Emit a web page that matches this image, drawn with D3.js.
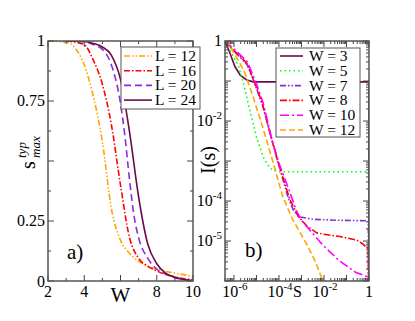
<!DOCTYPE html>
<html>
<head>
<meta charset="UTF-8">
<title>s_max and I(s)</title>
<script type="text/javascript" src="https://cdnjs.cloudflare.com/ajax/libs/d3/7.8.5/d3.min.js"></script>
<style>
body { margin: 0; background: #fff; }
text { font-family: "Liberation Serif", "DejaVu Serif", serif; fill: #000; }
</style>
</head>
<body>
<div id="plot"></div>
<script type="text/javascript">

// panel a) : typical s_max against W, one curve per L
var wL12 = [2, 3, 3.5, 4, 4.5, 5, 5.5, 6, 6.5, 7, 7.5, 8, 9, 10]
var sL12 = [1, 0.995, 0.97, 0.9, 0.77, 0.58, 0.30, 0.17, 0.115, 0.082, 0.062, 0.049, 0.033, 0.02]
var wL16 = [3, 3.5, 4, 4.5, 5, 5.5, 6, 6.5, 7, 7.5, 8, 9, 10]
var sL16 = [1, 0.995, 0.985, 0.92, 0.82, 0.65, 0.40, 0.18, 0.095, 0.062, 0.042, 0.017, 0.005]
var wL20 = [3, 4, 4.5, 5, 5.5, 6, 6.25, 6.5, 6.75, 7, 7.5, 8, 8.5, 9, 10]
var sL20 = [1, 0.997, 0.985, 0.965, 0.9, 0.74, 0.6, 0.42, 0.27, 0.18, 0.095, 0.05, 0.028, 0.014, 0.002]
var wL24 = [3, 4, 4.5, 5, 5.5, 6, 6.5, 7, 7.5, 8, 8.5, 9, 10]
var sL24 = [1, 0.998, 0.99, 0.975, 0.94, 0.84, 0.62, 0.35, 0.155, 0.072, 0.032, 0.016, 0.001]

var labelsA = ["L = 12", "L = 16", "L = 20", "L = 24"]

// panel b) : I(s) against S, one curve per W
var sW3  = [4e-7, 6.6e-7, 1.1e-6, 1.9e-6, 3.7e-6, 7.2e-6, 1, 1]
var iW3  = [1, 0.5, 0.23, 0.14, 0.106, 0.095, 0.095, 1e-9]
var sW5  = [4e-7, 7.9e-7, 1.6e-6, 2.5e-6, 4.5e-6, 1e-5, 2e-5, 3.2e-5, 5e-5, 1e-4, 1, 1]
var iW5  = [0.9, 0.5, 0.23, 0.1, 0.025, 4e-3, 1.26e-3, 7.9e-4, 6e-4, 5.4e-4, 5.4e-4, 1e-9]
var sW7  = [4e-7, 5e-7, 1e-6, 2e-6, 4e-6, 8.9e-6, 1.9e-5, 4.2e-5, 1e-4, 2.5e-4, 4.5e-4, 8.9e-4, 3.2e-3, 3.2e-2, 0.93, 1]
var iW7  = [1, 0.83, 0.56, 0.38, 0.25, 0.079, 0.024, 4.5e-3, 7.9e-4, 1.26e-4, 5.6e-5, 4e-5, 3.5e-5, 3.3e-5, 3.2e-5, 1e-9]
var sW8  = [4e-7, 4.7e-7, 9.1e-7, 1.9e-6, 3.7e-6, 8.5e-6, 1.8e-5, 4e-5, 9.3e-5, 3.1e-4, 7.2e-4, 1.7e-3, 4.7e-3, 9.3e-3, 5.1e-2, 0.28, 0.55, 0.93, 1]
var iW8  = [1, 0.87, 0.6, 0.41, 0.28, 0.089, 0.028, 5e-3, 8.9e-4, 1.06e-4, 4.1e-5, 2.4e-5, 1.6e-5, 1.48e-5, 1.29e-5, 1.06e-5, 8.3e-6, 6.3e-6, 1e-9]
var sW10 = [4e-7, 5e-7, 1e-6, 2e-6, 4e-6, 9.3e-6, 2e-5, 5e-5, 1e-4, 3.1e-4, 6.2e-4, 1e-3, 2.5e-3, 8.9e-3, 4.5e-2, 0.25, 0.89, 1]
var iW10 = [1, 0.89, 0.63, 0.44, 0.3, 0.095, 0.028, 3.2e-3, 8.9e-4, 1.6e-4, 5.4e-5, 3.3e-5, 1.8e-5, 7.9e-6, 3.3e-6, 1.66e-6, 1.26e-6, 1e-9]
var sW12 = [4e-7, 5.6e-7, 1e-6, 1.6e-6, 3.2e-6, 7.1e-6, 2e-5, 5e-5, 1.4e-4, 4e-4, 1.6e-3, 4e-3, 8.9e-3, 1.26e-2]
var iW12 = [1, 0.87, 0.5, 0.32, 0.15, 0.04, 6.3e-3, 1.1e-3, 1.4e-4, 3.5e-5, 8.9e-6, 3.2e-6, 1e-6, 5e-7]

var labelsB = ["W = 3", "W = 5", "W = 7", "W = 8", "W = 10", "W = 12"]

// tick labels
var xTicksA = [2, 4, 8, 10]
var yTicksA = [0, 0.25, 0.75, 1]
var xTicksB = [-6, -4, -2, 0]     // exponents
var yTicksB = [0, -2, -4, -5]

var maroon = "#6b0a48", orange = "#ffa500", red = "#ff0000",
    violet = "#8a2be2", green = "#00ff00", magenta = "#ff00ff"

var svg = d3.select("#plot").append("svg")
	.attr("width", 415).attr("height", 321)

function zip(xs, ys) { return xs.map(function(x, i) { return [x, ys[i]] }) }

// ---------- panel a ----------
var xa = d3.scaleLinear().domain([2, 10]).range([48, 193])
var ya = d3.scaleLinear().domain([0, 1]).range([281, 41])

svg.append("clipPath").attr("id", "clipa").append("rect")
	.attr("x", 48).attr("y", 41).attr("width", 145).attr("height", 240)

var seriesA = [
	{ d: zip(wL12, sL12), c: orange, dash: "6,2,1.5,2,1.5,2" },
	{ d: zip(wL16, sL16), c: red,    dash: "6,2,1.5,2" },
	{ d: zip(wL20, sL20), c: violet, dash: "7,4" },
	{ d: zip(wL24, sL24), c: maroon, dash: null }
]

var lineA = d3.line().x(function(d) { return xa(d[0]) }).y(function(d) { return ya(d[1]) })
	.curve(d3.curveMonotoneX)

svg.append("g").attr("clip-path", "url(#clipa)")
	.selectAll("path").data(seriesA).enter().append("path")
	.attr("d", function(s) { return lineA(s.d) })
	.attr("fill", "none").attr("stroke", function(s) { return s.c })
	.attr("stroke-width", 1.6)
	.attr("stroke-dasharray", function(s) { return s.dash })

// inward ticks on all four sides
function tickSet(g, pos, len, vertical, x0, x1) {
	pos.forEach(function(p) {
		if (vertical) {
			g.append("line").attr("x1", x0).attr("x2", x0 + len).attr("y1", p).attr("y2", p)
			g.append("line").attr("x1", x1).attr("x2", x1 - len).attr("y1", p).attr("y2", p)
		} else {
			g.append("line").attr("y1", x0).attr("y2", x0 - len).attr("x1", p).attr("x2", p)
			g.append("line").attr("y1", x1).attr("y2", x1 + len).attr("x1", p).attr("x2", p)
		}
	})
}

var ga = svg.append("g").attr("stroke", "#444").attr("stroke-width", 1)
tickSet(ga, d3.range(2, 10.1, 2).map(xa), 6, false, 281, 41)
tickSet(ga, d3.range(3, 10, 2).map(xa), 3, false, 281, 41)
tickSet(ga, d3.range(0, 1.01, 0.25).map(ya), 6, true, 48, 193)
tickSet(ga, d3.range(0.125, 1, 0.25).map(ya), 3, true, 48, 193)
svg.append("rect").attr("x", 48).attr("y", 41).attr("width", 145).attr("height", 240)
	.attr("fill", "none").attr("stroke", "#555").attr("stroke-width", 1.5)

svg.selectAll(".xla").data(xTicksA).enter().append("text")
	.attr("x", function(d) { return xa(d) }).attr("y", 297)
	.attr("text-anchor", "middle").attr("font-size", 16).text(function(d) { return d })
svg.selectAll(".yla").data(yTicksA).enter().append("text")
	.attr("x", 45).attr("y", function(d) { return ya(d) + 5 + (d === 0 ? 1 : 0) })
	.attr("text-anchor", "end").attr("font-size", 16).text(function(d) { return d })

svg.append("text").attr("x", xa(6)).attr("y", 302).attr("text-anchor", "middle")
	.attr("font-size", 21).text("W")
svg.append("text").attr("x", 67).attr("y", 259).attr("font-size", 21).text("a)")

var ylab = svg.append("g").attr("transform", "translate(35,0) rotate(-90)")
var yt = ylab.append("text").attr("font-size", 20)
yt.append("tspan").attr("x", -169).attr("y", 0).text("s")
yt.append("tspan").attr("x", -158).attr("y", -9).attr("font-size", 13).attr("font-style", "italic").text("typ")
yt.append("tspan").attr("x", -158).attr("y", 5).attr("font-size", 13).attr("font-style", "italic").text("max")

// legend a
svg.append("rect").attr("x", 121).attr("y", 47).attr("width", 79).attr("height", 62)
	.attr("fill", "#fff").attr("stroke", "#555").attr("stroke-width", 1)
var lgA = svg.selectAll(".lga").data(seriesA).enter().append("g")
	.attr("transform", function(d, i) { return "translate(0," + (56 + i * 14.7) + ")" })
lgA.append("line").attr("x1", 124).attr("x2", 152).attr("y1", 0).attr("y2", 0)
	.attr("stroke", function(s) { return s.c }).attr("stroke-width", 1.6)
	.attr("stroke-dasharray", function(s) { return s.dash })
lgA.append("text").attr("x", 155).attr("y", 5).attr("font-size", 15.5)
	.text(function(d, i) { return labelsA[i] })

// ---------- panel b ----------
var xb = d3.scaleLog().domain([4e-7, 1]).range([225, 369])
var yb = d3.scaleLog().domain([1e-6, 1]).range([281, 41])

svg.append("clipPath").attr("id", "clipb").append("rect")
	.attr("x", 225).attr("y", 41).attr("width", 144).attr("height", 240)

var seriesB = [
	{ d: zip(sW3, iW3),   c: maroon,  dash: null },
	{ d: zip(sW5, iW5),   c: green,   dash: "1.5,3" },
	{ d: zip(sW7, iW7),   c: violet,  dash: "6,2,1.5,2,1.5,2" },
	{ d: zip(sW8, iW8),   c: red,     dash: "7,2,1.5,2" },
	{ d: zip(sW10, iW10), c: magenta, dash: "9,3,2,3" },
	{ d: zip(sW12, iW12), c: orange,  dash: "6,3" }
]

var lineB = d3.line().x(function(d) { return xb(d[0]) }).y(function(d) { return yb(d[1]) })

svg.append("g").attr("clip-path", "url(#clipb)")
	.selectAll("path").data(seriesB).enter().append("path")
	.attr("d", function(s) { return lineB(s.d) })
	.attr("fill", "none").attr("stroke", function(s) { return s.c })
	.attr("stroke-width", 1.6)
	.attr("stroke-dasharray", function(s) { return s.dash })

var gb = svg.append("g").attr("stroke", "#444").attr("stroke-width", 1)
var xMajB = [], xMinB = [], yMajB = [], yMinB = []
for (var e = -7; e <= 0; e++) {
	for (var m = 1; m < 10; m++) {
		var v = m * Math.pow(10, e)
		if (v >= 4e-7 && v <= 1) (m === 1 ? xMajB : xMinB).push(xb(v))
		if (v >= 1e-6 && v <= 1) (m === 1 ? yMajB : yMinB).push(yb(v))
	}
}
tickSet(gb, xMajB, 6, false, 281, 41)
tickSet(gb, xMinB, 3, false, 281, 41)
tickSet(gb, yMajB, 6, true, 225, 369)
tickSet(gb, yMinB, 3, true, 225, 369)
svg.append("rect").attr("x", 225).attr("y", 41).attr("width", 144).attr("height", 240)
	.attr("fill", "none").attr("stroke", "#555").attr("stroke-width", 1.5)

function powLabel(sel, e) {
	if (e === 0) { sel.text("1"); return }
	sel.append("tspan").text("10")
	sel.append("tspan").attr("dy", -7).attr("font-size", 11).text("-" + (-e))
}
svg.selectAll(".xlb").data(xTicksB).enter().append("text")
	.attr("x", function(d) { return xb(Math.pow(10, d)) + (d === 0 ? 0 : 1) }).attr("y", 297)
	.attr("text-anchor", "middle").attr("font-size", 16)
	.each(function(d) { powLabel(d3.select(this), d) })
svg.selectAll(".ylb").data(yTicksB).enter().append("text")
	.attr("x", 222).attr("y", function(d) { return yb(Math.pow(10, d)) + 5 })
	.attr("text-anchor", "end").attr("font-size", 16)
	.each(function(d) { powLabel(d3.select(this), d) })

svg.append("text").attr("x", 293).attr("y", 297)
	.attr("font-size", 16).text("S")
svg.append("text").attr("x", 245).attr("y", 257).attr("font-size", 21).text("b)")
svg.append("text").attr("transform", "translate(215,160) rotate(-90)")
	.attr("text-anchor", "middle").attr("font-size", 20).text("I(s)")

// legend b
svg.append("rect").attr("x", 276).attr("y", 48).attr("width", 84).attr("height", 89)
	.attr("fill", "#fff").attr("stroke", "#555").attr("stroke-width", 1)
var lgB = svg.selectAll(".lgb").data(seriesB).enter().append("g")
	.attr("transform", function(d, i) { return "translate(0," + (56 + i * 14.8) + ")" })
lgB.append("line").attr("x1", 280).attr("x2", 303).attr("y1", 0).attr("y2", 0)
	.attr("stroke", function(s) { return s.c }).attr("stroke-width", 1.6)
	.attr("stroke-dasharray", function(s) { return s.dash })
lgB.append("text").attr("x", 309).attr("y", 5).attr("font-size", 15.5)
	.text(function(d, i) { return labelsB[i] })

</script>
</body>
</html>
